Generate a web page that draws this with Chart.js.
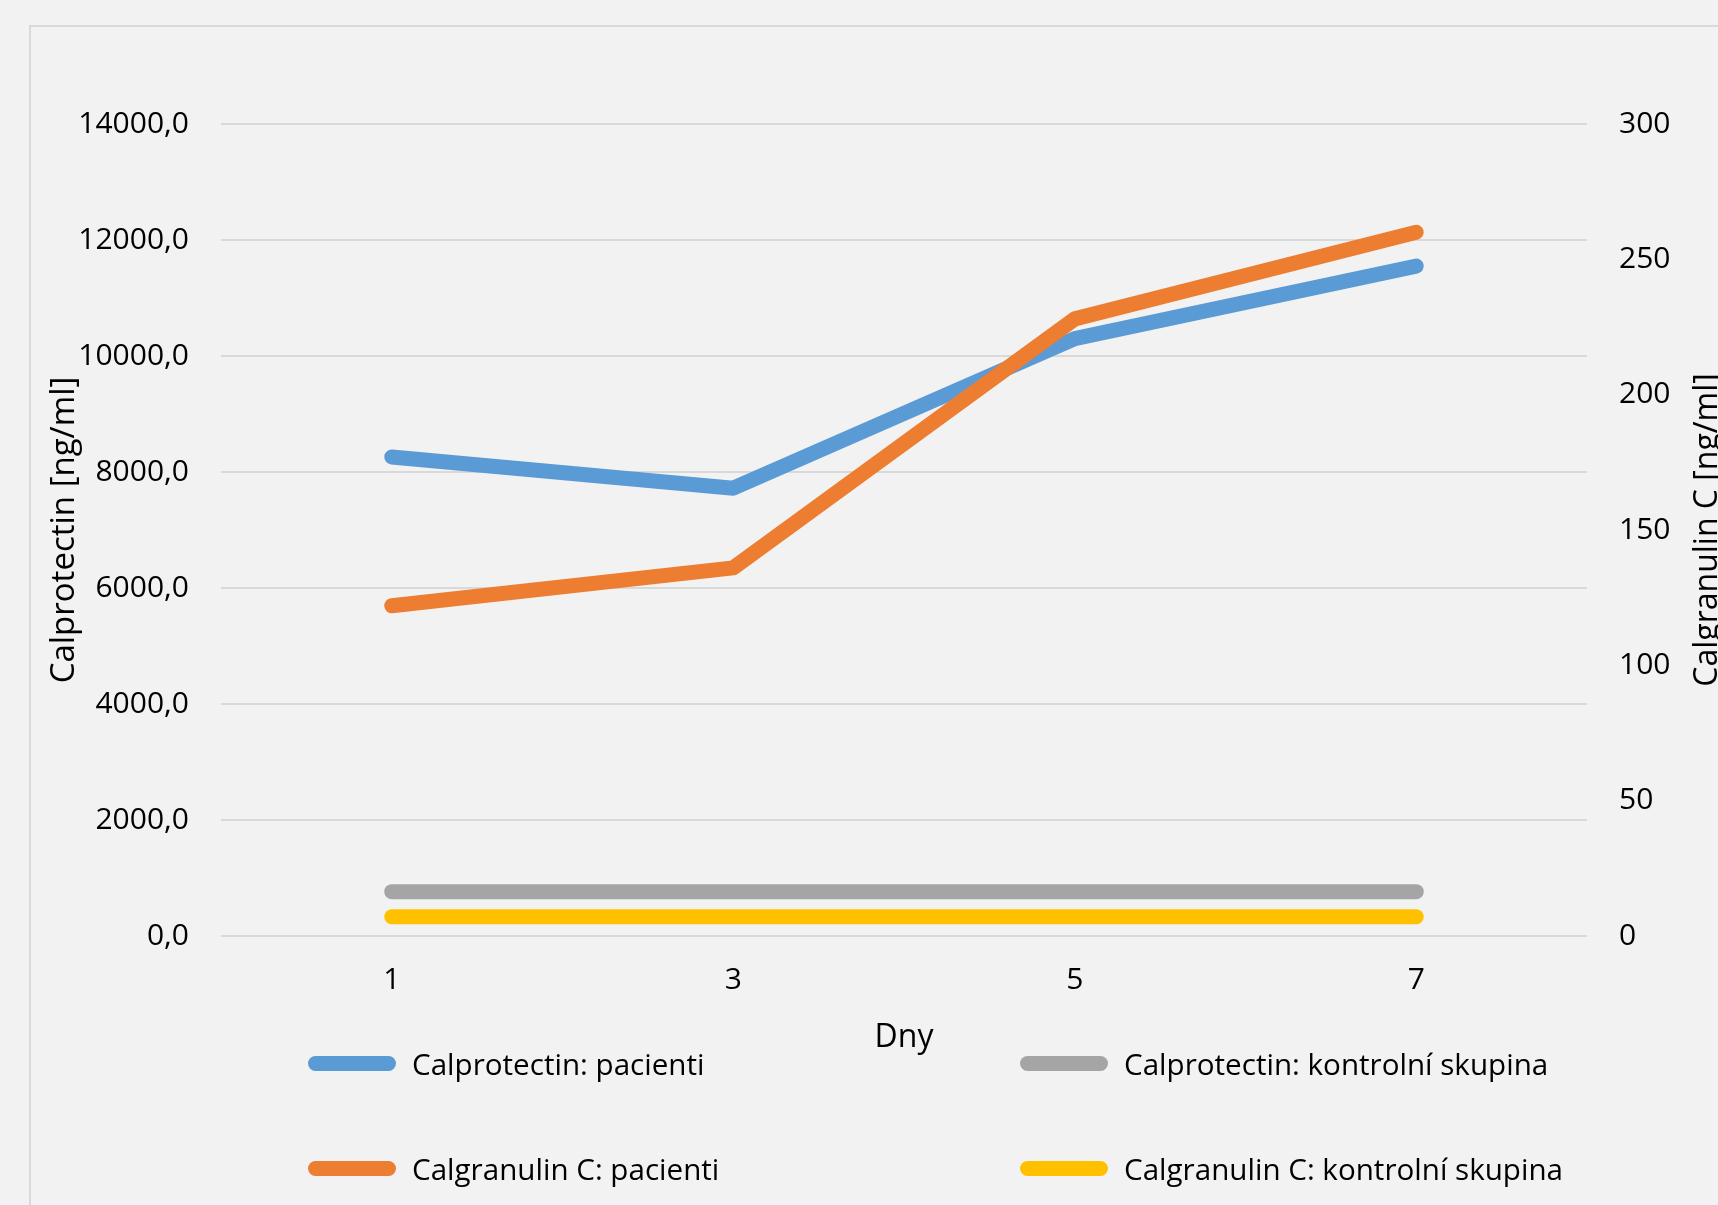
<!DOCTYPE html>
<html lang="cs">
<head>
<meta charset="utf-8">
<title>Calprotectin / Calgranulin C</title>
<script src="https://cdn.jsdelivr.net/npm/chart.js@4/dist/chart.umd.min.js"></script>
<style>
  html, body { margin: 0; padding: 0; overflow: hidden; background: #f2f2f2; }
  #wrap { position: relative; width: 1718px; height: 1205px; }
  #frame { position: absolute; left: 29px; top: 25px; right: -10px; bottom: -10px;
           border-left: 2px solid #d9d9d9; border-top: 2px solid #d9d9d9; }
  #myChart { position: absolute; left: 0; top: 0; }
  #legend { position: absolute; left: 308px; top: 1043px;
            display: grid; grid-template-columns: 712px auto; grid-template-rows: 40px 40px;
            grid-auto-flow: column; row-gap: 65px;
            font-family: "Open Sans", sans-serif; font-size: 29.6px; color: #000; }
  .item { display: flex; align-items: center; gap: 16px; white-space: nowrap; }
  .swatch { width: 88px; height: 15px; border-radius: 8px; }
</style>
</head>
<body>
<div id="wrap">
  <div id="frame"></div>
  <canvas id="myChart" width="1718" height="1205"></canvas>
  <div id="legend"></div>
</div>
<script>
// ↓ Données ↓
const dny = ['1', '3', '5', '7'];

const calprotectinPacienti = [8260, 7720, 10300, 11550];
const calgranulinPacienti = [122, 136, 228, 260];
const calprotectinKontrola = [765, 765, 765, 765];
const calgranulinKontrola = [7.1, 7.1, 7.1, 7.1];

const leftTicks = [0, 2000, 4000, 6000, 8000, 10000, 12000, 14000];
const rightTicks = [0, 50, 100, 150, 200, 250, 300];

const titleLeft = 'Calprotectin [ng/ml]';
const titleRight = 'Calgranulin C [ng/ml]';
const titleX = 'Dny';

const font = '"Open Sans", sans-serif';

// titre de l'axe droit, lu de bas en haut comme dans Excel
const rightTitle = {
    id: 'rightTitle',
    afterDraw(chart) {
        const s = chart.scales.y1;
        const c = chart.ctx;
        c.save();
        c.translate(s.right - 1, (s.top + s.bottom) / 2);
        c.rotate(-Math.PI / 2);
        c.font = '32px ' + font;
        c.fillStyle = '#000';
        c.textAlign = 'center';
        c.textBaseline = 'alphabetic';
        c.fillText(titleRight, 0, 0);
        c.restore();
    }
};

// légende HTML en deux colonnes
const htmlLegend = {
    id: 'htmlLegend',
    afterUpdate(chart) {
        const box = document.getElementById('legend');
        box.innerHTML = '';
        chart.data.datasets.forEach(ds => {
            const item = document.createElement('div');
            item.className = 'item';
            const sw = document.createElement('span');
            sw.className = 'swatch';
            sw.style.background = ds.borderColor;
            const txt = document.createElement('span');
            txt.textContent = ds.label;
            item.appendChild(sw);
            item.appendChild(txt);
            box.appendChild(item);
        });
    }
};

const line = (label, data, color, axis, order) => ({
    label: label,
    data: data,
    yAxisID: axis,
    borderColor: color,
    backgroundColor: color,
    borderWidth: 15,
    borderCapStyle: 'round',
    borderJoinStyle: 'round',
    pointRadius: 0,
    tension: 0,
    fill: false,
    order: order,
});

new Chart(document.getElementById('myChart'), {
    type: 'line',
    data: {
        labels: dny,
        datasets: [
            line('Calprotectin: pacienti', calprotectinPacienti, '#5b9bd5', 'y', 2),
            line('Calgranulin C: pacienti', calgranulinPacienti, '#ed7d31', 'y1', 1),
            line('Calprotectin: kontrolní skupina', calprotectinKontrola, '#a5a5a5', 'y', 4),
            line('Calgranulin C: kontrolní skupina', calgranulinKontrola, '#ffc000', 'y1', 3),
        ]
    },
    plugins: [rightTitle, htmlLegend],
    options: {
        responsive: false,
        animation: false,
        devicePixelRatio: 1,
        layout: { padding: { top: 124, left: 0, right: 0, bottom: 0 } },
        plugins: {
            legend: { display: false },
            tooltip: { enabled: false },
        },
        scales: {
            x: {
                offset: true,
                grid: { display: false },
                border: { display: false },
                ticks: { color: '#000', font: { family: font, size: 30 }, padding: 18 },
                title: {
                    display: true,
                    text: titleX,
                    color: '#000',
                    font: { family: font, size: 32 },
                    padding: { top: 0, bottom: 148 },
                },
                afterFit(s) { s.height = 269; },
            },
            y: {
                position: 'left',
                min: 0,
                max: 14000,
                afterBuildTicks(s) { s.ticks = leftTicks.map(v => ({ value: v })); },
                grid: { color: '#d9d9d9', lineWidth: 2, drawTicks: false },
                border: { display: false },
                ticks: {
                    color: '#000',
                    font: { family: font, size: 30 },
                    padding: 32,
                    callback: v => v.toFixed(1).replace('.', ','),
                },
                title: {
                    display: true,
                    text: titleLeft,
                    color: '#000',
                    font: { family: font, size: 33 },
                    padding: { top: 45, bottom: 0 },
                },
                afterFit(s) { s.width = 221; },
            },
            y1: {
                position: 'right',
                min: 0,
                max: 300,
                afterBuildTicks(s) { s.ticks = rightTicks.map(v => ({ value: v })); },
                grid: { display: false, drawTicks: false },
                border: { display: false },
                ticks: { color: '#000', font: { family: font, size: 30 }, padding: 32 },
                afterFit(s) { s.width = 131; },
            },
        },
    },
});
</script>
</body>
</html>
